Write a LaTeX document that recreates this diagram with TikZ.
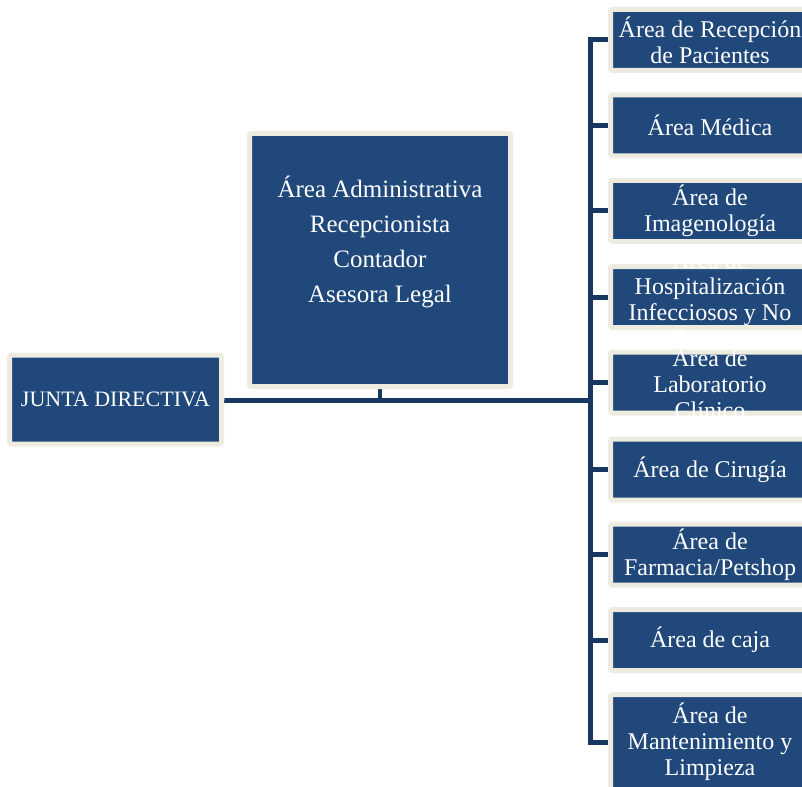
\documentclass[tikz,border=0pt]{standalone}
\usepackage{fontspec}
\setmainfont{Liberation Serif}
\usetikzlibrary{backgrounds}
\definecolor{boxblue}{RGB}{32,72,122}
\definecolor{framecol}{RGB}{238,236,225}
\definecolor{linkblue}{RGB}{24,56,98}
\begin{document}
\begin{tikzpicture}[x=1pt,y=-1pt,
  box/.style={draw=framecol, line width=5pt, fill=boxblue, rounded corners=2pt,
    text=white, align=center, inner sep=0pt, font=\fontsize{24}{26}\selectfont},
  rbox/.style={box, minimum width=199pt, minimum height=61pt},
  boxtext/.style={text=white, align=center, inner sep=0pt, font=\fontsize{24}{26}\selectfont},
  link/.style={draw=linkblue, line width=5pt, line join=miter}]
\useasboundingbox (0,0) rectangle (802,786);
\clip (0,0) rectangle (802,786);

\node[box, minimum width=212pt, minimum height=89pt, font=\fontsize{22}{26}\selectfont] (jd) at (115.5,399.5) {JUNTA DIRECTIVA};
\node[box, minimum width=261pt, minimum height=253pt] (admin) at (380,260) {};
\node[boxtext, font=\fontsize{25}{35}\selectfont] (admintext) at (380,242) {Área Administrativa\\Recepcionista\\Contador\\Asesora Legal};

\node[rbox] (r1) at (710,40) {Área de Recepción\\de Pacientes};
\node[rbox] (r2) at (710,125.5) {Área Médica};
\node[rbox] (r3) at (710,211) {Área de\\Imagenología};
\node[rbox] (r4) at (710,297) {};
\node[rbox] (r5) at (710,382.5) {};
\node[rbox] (r6) at (710,469.5) {Área de Cirugía};
\node[rbox] (r7) at (710,554.5) {Área de\\Farmacia/Petshop};
\node[rbox] (r8) at (710,640) {Área de caja};
\node[rbox, minimum height=95pt] (r9) at (710,742) {Área de\\Mantenimiento y\\Limpieza};
\node[boxtext] (r4text) at (r4.center) {Área de\\Hospitalización\\Infecciosos y No\\infecciosos};
\node[boxtext] (r5text) at (r5.center) {Área de\\Laboratorio\\Clínico};

\coordinate (trunk) at (590,400);

\begin{pgfonlayer}{background}
  \draw[link] (r1.west) -- (r1.west -| trunk) -- (r9.west -| trunk) -- (r9.west);
  \foreach \n in {r2,r3,r4,r5,r6,r7,r8} {
    \draw[link] (\n.west -| trunk) -- (\n.west);
  }
  \draw[link] (jd.east) -- (jd.east |- trunk) -- (trunk);
  \draw[link, line width=4.5pt] (admin.south) -- (admin.south |- trunk);
\end{pgfonlayer}
\end{tikzpicture}
\end{document}
